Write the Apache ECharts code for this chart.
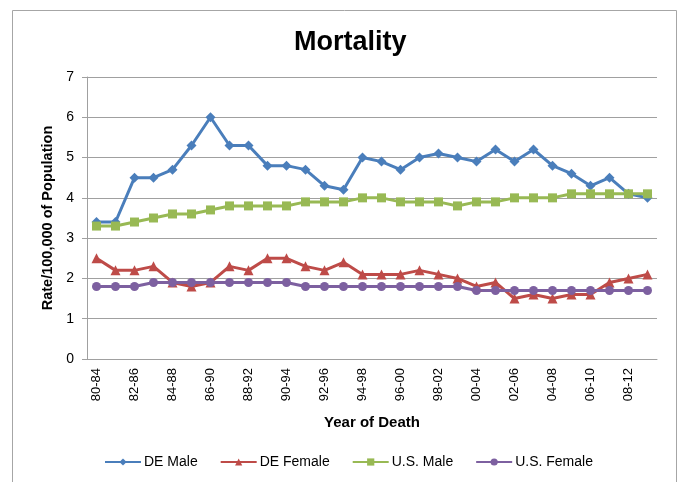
<!DOCTYPE html>
<html>
<head>
<meta charset="utf-8">
<title>Mortality</title>
<script src="https://cdn.jsdelivr.net/npm/echarts@6/dist/echarts.min.js"></script>
<style>
  html, body { margin: 0; padding: 0; background: #fff; }
  #main { width: 681px; height: 482px; }
</style>
</head>
<body>
<div id="main"></div>
<script>
// year ranges, 80-84 ... 09-13
var categories = ['80-84', '81-85', '82-86', '83-87', '84-88', '85-89', '86-90', '87-91', '88-92', '89-93',
  '90-94', '91-95', '92-96', '93-97', '94-98', '95-99', '96-00', '97-01', '98-02', '99-03',
  '00-04', '01-05', '02-06', '03-07', '04-08', '05-09', '06-10', '07-11', '08-12', '09-13'];

var deMale = [3.4, 3.4, 4.5, 4.5, 4.7, 5.3, 6.0, 5.3, 5.3, 4.8, 4.8, 4.7, 4.3, 4.2, 5.0,
  4.9, 4.7, 5.0, 5.1, 5.0, 4.9, 5.2, 4.9, 5.2, 4.8, 4.6, 4.3, 4.5, 4.1, 4.0];
var deFemale = [2.5, 2.2, 2.2, 2.3, 1.9, 1.8, 1.9, 2.3, 2.2, 2.5, 2.5, 2.3, 2.2, 2.4, 2.1,
  2.1, 2.1, 2.2, 2.1, 2.0, 1.8, 1.9, 1.5, 1.6, 1.5, 1.6, 1.6, 1.9, 2.0, 2.1];
var usMale = [3.3, 3.3, 3.4, 3.5, 3.6, 3.6, 3.7, 3.8, 3.8, 3.8, 3.8, 3.9, 3.9, 3.9, 4.0,
  4.0, 3.9, 3.9, 3.9, 3.8, 3.9, 3.9, 4.0, 4.0, 4.0, 4.1, 4.1, 4.1, 4.1, 4.1];
var usFemale = [1.8, 1.8, 1.8, 1.9, 1.9, 1.9, 1.9, 1.9, 1.9, 1.9, 1.9, 1.8, 1.8, 1.8, 1.8,
  1.8, 1.8, 1.8, 1.8, 1.8, 1.7, 1.7, 1.7, 1.7, 1.7, 1.7, 1.7, 1.7, 1.7, 1.7];

var colors = ['#4a7ebb', '#be4b48', '#98b954', '#7d60a0'];
var font = 'Liberation Sans, Arial, sans-serif';

var myChart = echarts.init(document.getElementById('main'));

function mkSeries(name, data, symbol, size) {
  return {
    name: name,
    type: 'line',
    data: data,
    symbol: symbol,
    symbolSize: size,
    showAllSymbol: true,
    lineStyle: { width: 3 },
    emphasis: { disabled: true }
  };
}

var option = {
  color: colors,
  animation: false,
  textStyle: { fontFamily: font },
  graphic: [{
    type: 'rect',
    shape: { x: 12.5, y: 10.5, width: 664, height: 480 },
    style: { fill: 'none', stroke: '#a6a6a6', lineWidth: 1 }
  }],
  title: {
    text: 'Mortality',
    left: 289,
    top: 24,
    textStyle: { fontSize: 27, fontWeight: 'bold', color: '#000', fontFamily: font }
  },
  legend: {
    bottom: 8,
    left: 99,
    itemWidth: 36,
    itemHeight: 9,
    itemGap: 22,
    textStyle: { fontSize: 14, color: '#000', padding: [0, 0, 0, -2] },
    data: ['DE Male', 'DE Female', 'U.S. Male', 'U.S. Female']
  },
  grid: { left: 87, right: 24, top: 77, bottom: 123 },
  xAxis: {
    type: 'category',
    data: categories,
    boundaryGap: true,
    name: 'Year of Death',
    nameLocation: 'middle',
    nameGap: 56,
    nameTextStyle: { fontSize: 15, fontWeight: 'bold', color: '#000' },
    axisLine: { lineStyle: { color: '#a0a0a0' } },
    axisTick: { show: false },
    axisLabel: { rotate: 90, interval: 1, fontSize: 13, color: '#000', margin: 9 }
  },
  yAxis: {
    type: 'value',
    min: 0,
    max: 7,
    interval: 1,
    name: 'Rate/100,000 of Population',
    nameLocation: 'middle',
    nameGap: 32,
    nameTextStyle: { fontSize: 14.5, fontWeight: 'bold', color: '#000' },
    axisLine: { show: true, lineStyle: { color: '#a0a0a0' } },
    axisTick: { show: true, length: 5, lineStyle: { color: '#a0a0a0' } },
    axisLabel: { fontSize: 14, color: '#000', margin: 13 },
    splitLine: { lineStyle: { color: '#a0a0a0' } }
  },
  series: [
    mkSeries('DE Male', deMale, 'diamond', 10),
    mkSeries('DE Female', deFemale, 'triangle', 10),
    mkSeries('U.S. Male', usMale, 'rect', 9),
    mkSeries('U.S. Female', usFemale, 'circle', 9)
  ]
};

myChart.setOption(option);
</script>
</body>
</html>
